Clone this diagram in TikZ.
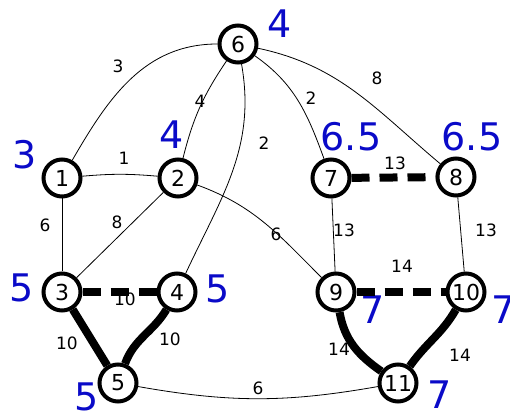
\documentclass[tikz,border=0pt]{standalone}
\usepackage{fontspec}
\setmainfont{DejaVu Sans}
\definecolor{scoreblue}{RGB}{10,10,200}
\begin{document}
\begin{tikzpicture}[x=1pt,y=1pt,
    vertex/.style={circle,draw,line width=4pt,minimum size=37pt,inner sep=0pt,font=\fontsize{22}{24}\selectfont},
    score/.style={text=scoreblue,inner sep=0pt,font=\fontsize{38}{40}\selectfont},
    wt/.style={inner sep=0pt,font=\fontsize{17}{19}\selectfont},
    plain/.style={line width=0.8pt},
    heavy/.style={line width=8pt},
    heavydash/.style={line width=8pt,dash pattern=on 18pt off 10pt}]
    \useasboundingbox (0,0) rectangle (510,414);
    % vertices
    \node[vertex] (n1) at (62,236) {1};
    \node[vertex] (n2) at (178,236) {2};
    \node[vertex] (n3) at (62,122) {3};
    \node[vertex] (n4) at (177,122) {4};
    \node[vertex] (n5) at (118,31) {5};
    \node[vertex] (n6) at (238,370) {6};
    \node[vertex] (n7) at (331,236) {7};
    \node[vertex] (n8) at (456,237) {8};
    \node[vertex] (n9) at (336,122) {9};
    \node[vertex] (n10) at (466,122) {10};
    \node[vertex] (n11) at (398,31) {11};
    % scores
    \node[score] (s1) at (25,259) {3};
    \node[score] (s2) at (172,279) {4};
    \node[score] (s3) at (22,126) {5};
    \node[score] (s4) at (218,125) {5};
    \node[score] (s5) at (87,17) {5};
    \node[score] (s6) at (280,390) {4};
    \node[score] (s7) at (351,277) {6.5};
    \node[score] (s8) at (472,277) {6.5};
    \node[score] (s9) at (373,104) {7};
    \node[score] (s10) at (504,104) {7};
    \node[score] (s11) at (440,19) {7};
    % edges
    \draw[plain] (n1) to[out=60,in=180] (n6);
    \draw[plain] (n1) to[bend left=5] (n2);
    \draw[plain] (n1) -- (n3);
    \draw[plain] (n2) to[bend left=10] (n6);
    \draw[plain] (n2) -- (n3);
    \draw[plain] (n2) to[out=-20,in=135] (n9);
    \draw[plain] (n4) to[out=65,in=-80] (n6);
    \draw[plain] (n6) to[out=-35,in=110] (n7);
    \draw[plain] (n6) to[out=-12,in=140] (n8);
    \draw[plain] (n7) -- (n9);
    \draw[plain] (n8) -- (n10);
    \draw[plain] (n5) to[out=-10,in=190] (n11);
    \draw[heavydash] (n7) -- (n8);
    \draw[heavydash] (n9) -- (n10);
    \draw[heavydash] (n3) -- (n4);
    \draw[heavy] (n3) -- (n5);
    \draw[heavy] (n4) to[out=-121,in=70] (n5);
    \draw[heavy] (n9) to[out=-80,in=145] (n11);
    \draw[heavy] (n10) to[out=-120,in=55] (n11);
    % weights
    \node[wt] (w16) at (118,348) {3};
    \node[wt] (w12) at (124,256) {1};
    \node[wt] (w13) at (45,189) {6};
    \node[wt] (w26) at (200,313) {4};
    \node[wt] (w23) at (117,192) {8};
    \node[wt] (w29) at (276,180) {6};
    \node[wt] (w46) at (264,271) {2};
    \node[wt] (w67) at (311,316) {2};
    \node[wt] (w68) at (377,336) {8};
    \node[wt] (w78) at (395,251) {13};
    \node[wt] (w79) at (344,184) {13};
    \node[wt] (w810) at (486,184) {13};
    \node[wt] (w910) at (402,148) {14};
    \node[wt] (w34) at (125,115) {10};
    \node[wt] (w35) at (67,71) {10};
    \node[wt] (w45) at (170,75) {10};
    \node[wt] (w911) at (339,65) {14};
    \node[wt] (w1011) at (460,59) {14};
    \node[wt] (w511) at (258,26) {6};
\end{tikzpicture}
\end{document}
